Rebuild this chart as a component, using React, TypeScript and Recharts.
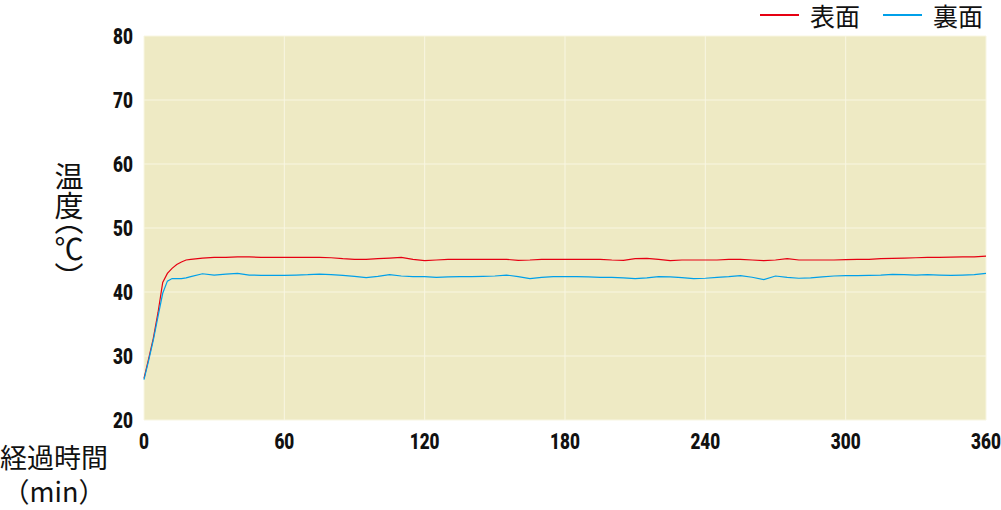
import { LineChart, Line, XAxis, YAxis, CartesianGrid } from 'recharts';

// elapsed time (min)
const minutes = [
  0, 2, 4, 6, 8, 10, 12, 14, 16, 18, 20, 25, 30, 35, 40, 45, 50, 55, 60, 65, 70, 75, 80, 85, 90, 95,
  100, 105, 110, 115, 120, 125, 130, 135, 140, 145, 150, 155, 160, 165, 170, 175, 180, 185, 190, 195,
  200, 205, 210, 215, 220, 225, 230, 235, 240, 245, 250, 255, 260, 265, 270, 275, 280, 285, 290, 295,
  300, 305, 310, 315, 320, 325, 330, 335, 340, 345, 350, 355, 360,
];

// 表面 (front surface) temperature
const frontTemp = [
  26.5, 29.6, 32.8, 36.8, 41.5, 42.9, 43.7, 44.3, 44.7, 45.0, 45.1, 45.3, 45.4, 45.4, 45.5, 45.5, 45.4, 45.4, 45.4, 45.4, 45.4, 45.4, 45.35, 45.2, 45.1, 45.1,
  45.2, 45.3, 45.4, 45.1, 44.9, 45.0, 45.1, 45.1, 45.1, 45.1, 45.1, 45.1, 44.95, 45.0, 45.1, 45.1, 45.1, 45.1, 45.1, 45.1,
  45.0, 44.95, 45.2, 45.25, 45.1, 44.9, 45.0, 45.0, 45.0, 45.0, 45.1, 45.1, 45.0, 44.9, 45.0, 45.2, 45.0, 45.0, 45.0, 45.0,
  45.05, 45.1, 45.1, 45.2, 45.25, 45.3, 45.35, 45.4, 45.4, 45.45, 45.5, 45.5, 45.6,
];

// 裏面 (back surface) temperature
const backTemp = [
  26.3, 29.3, 32.5, 36.2, 39.8, 41.7, 42.1, 42.1, 42.1, 42.2, 42.4, 42.85, 42.65, 42.8, 42.9, 42.65, 42.6, 42.6, 42.6, 42.65, 42.7, 42.8, 42.7, 42.6, 42.45, 42.25,
  42.45, 42.7, 42.5, 42.4, 42.4, 42.3, 42.35, 42.4, 42.4, 42.45, 42.5, 42.65, 42.4, 42.1, 42.3, 42.4, 42.4, 42.4, 42.35, 42.3,
  42.3, 42.2, 42.1, 42.2, 42.4, 42.35, 42.25, 42.1, 42.15, 42.3, 42.4, 42.55, 42.3, 41.95, 42.5, 42.3, 42.15, 42.2, 42.35, 42.5,
  42.55, 42.55, 42.6, 42.65, 42.75, 42.7, 42.65, 42.7, 42.65, 42.6, 42.65, 42.7, 42.9,
];

const xTicks = [0, 60, 120, 180, 240, 300, 360];
const yTicks = [20, 30, 40, 50, 60, 70, 80];

const series = [
  { key: 'front', name: '表面', color: '#e60012' },
  { key: 'back', name: '裏面', color: '#00a0e9' },
];

const data = minutes.map((t, i) => ({ t, front: frontTemp[i], back: backTemp[i] }));

const cjk = '"Noto Sans CJK JP", "Noto Sans", sans-serif';

// condensed heavy digits, squeezed horizontally around the anchor point
const NarrowTick = ({ x, y, payload, textAnchor, dy }: any) => (
  <text
    x={x}
    y={y}
    dy={dy}
    textAnchor={textAnchor}
    transform={`translate(${x},0) scale(0.78,1) translate(${-x},0)`}
    style={{ fontFamily: 'Roboto, "Liberation Sans", sans-serif', fontWeight: 900, fontSize: 22 }}
    fill="#111"
  >
    {payload.value}
  </text>
);

export default function App() {
  return (
    <div style={{ position: 'absolute', left: 0, top: 0, width: 1001, height: 510, background: '#fff', fontFamily: cjk }}>
      <LineChart width={1001} height={510} data={data} margin={{ top: 36, right: 15, bottom: 60, left: 0 }}>
        <CartesianGrid
          fill="#eeeac4"
          stroke="#f8f6e2"
          strokeWidth={1}
          horizontalValues={yTicks}
          verticalValues={xTicks}
        />
        <XAxis
          dataKey="t"
          type="number"
          domain={[0, 360]}
          ticks={xTicks}
          axisLine={false}
          tickLine={false}
          tickSize={0}
          tickMargin={13}
          height={30}
          tick={(p: any) => <NarrowTick {...p} textAnchor="middle" dy="0.71em" />}
          interval={0}
        />
        <YAxis
          type="number"
          domain={[20, 80]}
          ticks={yTicks}
          axisLine={false}
          tickLine={false}
          tickSize={0}
          tickMargin={11}
          width={144}
          tick={(p: any) => <NarrowTick {...p} textAnchor="end" dy="0.36em" />}
          interval={0}
        />
        {series.map((s) => (
          <Line
            key={s.key}
            dataKey={s.key}
            name={s.name}
            stroke={s.color}
            strokeWidth={1.2}
            dot={false}
            type="linear"
            isAnimationActive={false}
          />
        ))}
      </LineChart>

      {/* legend */}
      <div style={{ position: 'absolute', top: 0, left: 760, width: 241, display: 'flex', alignItems: 'center', height: 30 }}>
        {series.map((s, i) => (
          <div key={s.key} style={{ display: 'flex', alignItems: 'center', marginLeft: i ? 23 : 0 }}>
            <span style={{ display: 'inline-block', width: 39, height: 2, background: s.color }} />
            <span style={{ fontSize: 25, lineHeight: '30px', marginLeft: 11, color: '#111', whiteSpace: 'nowrap' }}>{s.name}</span>
          </div>
        ))}
      </div>

      {/* y axis title */}
      <div
        style={{
          position: 'absolute',
          left: 54,
          top: 162,
          fontSize: 29,
          lineHeight: '30px',
          writingMode: 'vertical-rl',
          fontFeatureSettings: '"vpal"',
          color: '#111',
        }}
      >
        温度（℃）
      </div>

      {/* x axis title */}
      <div style={{ position: 'absolute', left: 0, top: 440, width: 108, textAlign: 'center', fontSize: 27, lineHeight: '34px', color: '#111' }}>
        <div style={{ whiteSpace: 'nowrap' }}>経過時間</div>
        <div style={{ whiteSpace: 'nowrap' }}>（min）</div>
      </div>
    </div>
  );
}
